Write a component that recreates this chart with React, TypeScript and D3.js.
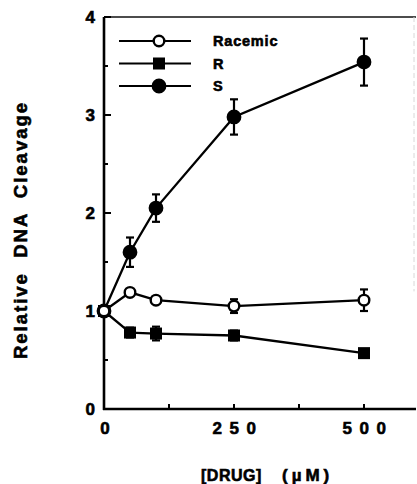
import React, { useRef, useEffect } from 'react';
import * as d3 from 'd3';

// concentrations (µM)
const doses = [0, 50, 100, 250, 500];

// relative DNA cleavage
const racemicVals = [1.0, 1.19, 1.11, 1.05, 1.11];
const racemicErr = [0, 0, 0, 0.07, 0.11];
const rVals = [1.0, 0.78, 0.77, 0.75, 0.57];
const rErr = [0, 0.05, 0.07, 0.05, 0];
const sVals = [1.0, 1.6, 2.05, 2.98, 3.54];
const sErr = [0, 0.15, 0.14, 0.18, 0.24];

const legendLabels = ['Racemic', 'R', 'S'];
const yTickLabels = [0, 1, 2, 3, 4];
const xTickLabels = [0, 250, 500];

const App = () => {
  const svgRef = useRef<SVGSVGElement>(null);

  useEffect(() => {
    const width = 417;
    const height = 484;
    const svg = d3.select(svgRef.current).attr('width', width).attr('height', height);
    svg.selectAll('*').remove();

    const font = "'Liberation Sans', Arial, sans-serif";
    // heavy type like the scanned original
    const heavy = (t: any, size: number) =>
      t.style('font-family', font).style('font-weight', 700).style('font-size', `${size}px`)
        .attr('stroke', '#000').attr('stroke-width', 0.6).attr('fill', '#000');

    const x = d3.scaleLinear().domain([0, 600]).range([104, 416]);
    const y = d3.scaleLinear().domain([0, 4]).range([409, 17]);

    // frame: top border and faint right edge
    svg.append('line')
      .attr('x1', x(0)).attr('x2', x(600))
      .attr('y1', y(4)).attr('y2', y(4))
      .attr('stroke', '#111').attr('stroke-width', 1.6);
    svg.append('line')
      .attr('x1', 414).attr('x2', 414)
      .attr('y1', y(4)).attr('y2', y(1.2))
      .attr('stroke', '#d8d8d8').attr('stroke-width', 1)
      .attr('stroke-dasharray', '5,3');

    // y ticks (inward), majors at integers
    d3.range(0, 4.01, 0.5).forEach(v => {
      const major = Number.isInteger(v);
      svg.append('line')
        .attr('x1', x(0)).attr('x2', x(0) + (major ? 7 : 4))
        .attr('y1', y(v)).attr('y2', y(v))
        .attr('stroke', '#000').attr('stroke-width', 2);
    });
    heavy(svg.selectAll('.ylab').data(yTickLabels).enter().append('text')
      .attr('x', 95).attr('y', d => y(d) + 6)
      .attr('text-anchor', 'end'), 17)
      .text(d => d);

    // x ticks (inward)
    [125, 250, 375, 500].forEach(v => {
      svg.append('line')
        .attr('x1', x(v)).attr('x2', x(v))
        .attr('y1', y(0)).attr('y2', y(0) - 5)
        .attr('stroke', '#000').attr('stroke-width', 2);
    });
    heavy(svg.selectAll('.xlab').data(xTickLabels).enter().append('text')
      .attr('x', d => x(d) + (d === 0 ? 1 : 4))
      .attr('y', 434)
      .attr('text-anchor', 'middle'), 17)
      .style('letter-spacing', d => (d === 0 ? '0px' : '7.5px'))
      .text(d => d);

    // axes
    svg.append('line')
      .attr('x1', x(0)).attr('x2', x(0))
      .attr('y1', y(4)).attr('y2', y(0) + 1)
      .attr('stroke', '#000').attr('stroke-width', 2.6);
    svg.append('line')
      .attr('x1', x(0) - 1).attr('x2', x(600))
      .attr('y1', y(0)).attr('y2', y(0))
      .attr('stroke', '#000').attr('stroke-width', 2.6);

    // axis titles
    const xt = heavy(svg.append('text').attr('x', 201).attr('y', 481), 16);
    xt.append('tspan').style('letter-spacing', '0.5px').text('[DRUG]');
    xt.append('tspan').attr('x', 282).style('font-size', '17px').style('letter-spacing', '4px').text('(µM)');

    heavy(svg.append('text')
      .attr('transform', `translate(27,230) rotate(-90)`)
      .attr('text-anchor', 'middle')
      .attr('xml:space', 'preserve'), 18.5)
      .style('letter-spacing', '2px')
      .text('Relative  DNA  Cleavage');

    const series = [
      { vals: sVals, err: sErr, type: 'circle', fill: '#000' },
      { vals: rVals, err: rErr, type: 'square', fill: '#000' },
      { vals: racemicVals, err: racemicErr, type: 'circle', fill: '#fff' },
    ];

    const line = d3.line<number>().x((d, i) => x(doses[i])).y(d => y(d));

    const drawMarker = (g: any, cx: number, cy: number, type: string, fill: string) => {
      if (type === 'square') {
        g.append('rect')
          .attr('x', cx - 6).attr('y', cy - 6)
          .attr('width', 12).attr('height', 12)
          .attr('fill', fill);
      } else {
        g.append('circle')
          .attr('cx', cx).attr('cy', cy).attr('r', fill === '#fff' ? 5.3 : 6.2)
          .attr('fill', fill).attr('stroke', '#000').attr('stroke-width', 2.4);
      }
    };

    series.forEach(s => {
      const g = svg.append('g');
      g.append('path')
        .attr('d', line(s.vals))
        .attr('fill', 'none').attr('stroke', '#000').attr('stroke-width', 2.3);
      s.vals.forEach((v, i) => {
        const e = s.err[i];
        if (e > 0) {
          const cx = x(doses[i]);
          g.append('line')
            .attr('x1', cx).attr('x2', cx).attr('y1', y(v - e)).attr('y2', y(v + e))
            .attr('stroke', '#000').attr('stroke-width', 2.2);
          [v - e, v + e].forEach(b => {
            g.append('line')
              .attr('x1', cx - 4).attr('x2', cx + 4).attr('y1', y(b)).attr('y2', y(b))
              .attr('stroke', '#000').attr('stroke-width', 2.2);
          });
        }
      });
      s.vals.forEach((v, i) => drawMarker(g, x(doses[i]), y(v), s.type, s.fill));
    });

    // legend
    const legendTypes = [
      { type: 'circle', fill: '#fff' },
      { type: 'square', fill: '#000' },
      { type: 'circle', fill: '#000' },
    ];
    const legendY = d3.scalePoint<string>().domain(legendLabels).range([41, 86]);
    legendLabels.forEach((lab, i) => {
      const ly = legendY(lab) as number;
      const g = svg.append('g');
      g.append('line')
        .attr('x1', 119).attr('x2', 191).attr('y1', ly).attr('y2', ly)
        .attr('stroke', '#000').attr('stroke-width', 2);
      drawMarker(g, 159, ly, legendTypes[i].type, legendTypes[i].fill);
      heavy(g.append('text').attr('x', 213).attr('y', ly + 5), 14.5)
        .style('letter-spacing', '0.8px')
        .text(lab);
    });
  }, []);

  return <svg ref={svgRef} style={{ position: 'absolute', left: 0, top: 0, background: '#fff' }} />;
};

export default App;
